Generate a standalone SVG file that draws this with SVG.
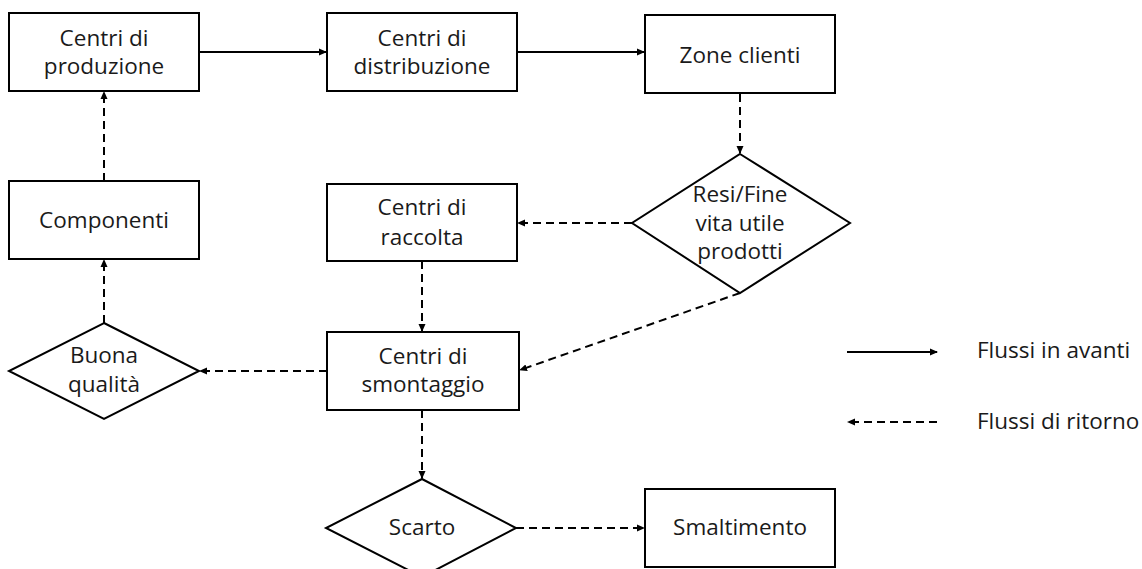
<svg xmlns="http://www.w3.org/2000/svg" width="1142" height="569" viewBox="0 0 1142 569">
<style>
.n{fill:#fff;stroke:#000;stroke-width:2}
.t{font-family:"Open Sans","Liberation Sans",sans-serif;font-size:22.5px;fill:#1a1a1a;text-anchor:middle}
.tl{font-family:"Open Sans","Liberation Sans",sans-serif;font-size:22.5px;fill:#1a1a1a}
.s{fill:none;stroke:#000;stroke-width:2}
.d{fill:none;stroke:#000;stroke-width:2;stroke-dasharray:8 5}
</style>
<defs>
<marker id="a" markerWidth="8" markerHeight="8" refX="7" refY="4" orient="auto" markerUnits="userSpaceOnUse">
<path d="M0,0.5 L8,4 L0,7.5 Z" fill="#000"/>
</marker>
</defs>
<rect width="1142" height="569" fill="#fff"/>
<g id="connectors">
<line class="s" x1="199" y1="52" x2="326" y2="52" marker-end="url(#a)"/>
<line class="s" x1="517" y1="52" x2="644" y2="52" marker-end="url(#a)"/>
<line class="d" x1="740" y1="94" x2="740" y2="153" marker-end="url(#a)"/>
<line class="d" x1="632" y1="223" x2="518" y2="223" marker-end="url(#a)"/>
<line class="d" x1="740" y1="293" x2="520" y2="370" marker-end="url(#a)"/>
<line class="d" x1="422" y1="261" x2="422" y2="331" marker-end="url(#a)"/>
<line class="d" x1="327" y1="371" x2="200" y2="371" marker-end="url(#a)"/>
<line class="d" x1="104" y1="323" x2="104" y2="260" marker-end="url(#a)"/>
<line class="d" x1="104" y1="181" x2="104" y2="92" marker-end="url(#a)"/>
<line class="d" x1="422" y1="410" x2="422" y2="478" marker-end="url(#a)"/>
<line class="d" x1="516" y1="528" x2="644" y2="528" marker-end="url(#a)"/>
</g>
<g id="produzione">
<rect class="n" x="9" y="13" width="190" height="78"/>
<text class="t" x="104" y="45.5">Centri di</text>
<text class="t" x="104" y="74">produzione</text>
</g>
<g id="distribuzione">
<rect class="n" x="327" y="13" width="190" height="78"/>
<text class="t" x="422" y="45.5">Centri di</text>
<text class="t" x="422" y="74">distribuzione</text>
</g>
<g id="clienti">
<rect class="n" x="645" y="15" width="190" height="78"/>
<text class="t" x="740" y="62.5">Zone clienti</text>
</g>
<g id="resi">
<polygon class="n" points="740,154 850,223 740,293 632,223"/>
<text class="t" x="740" y="202">Resi/Fine</text>
<text class="t" x="740" y="230.5">vita utile</text>
<text class="t" x="740" y="259">prodotti</text>
</g>
<g id="raccolta">
<rect class="n" x="327" y="184" width="190" height="77"/>
<text class="t" x="422" y="215">Centri di</text>
<text class="t" x="422" y="244.5">raccolta</text>
</g>
<g id="componenti">
<rect class="n" x="9" y="181" width="190" height="78"/>
<text class="t" x="104" y="228">Componenti</text>
</g>
<g id="smontaggio">
<rect class="n" x="327" y="332" width="192" height="78"/>
<text class="t" x="423" y="364">Centri di</text>
<text class="t" x="423" y="392">smontaggio</text>
</g>
<g id="buona">
<polygon class="n" points="104,323 199,371 104,419 9,371"/>
<text class="t" x="104" y="363">Buona</text>
<text class="t" x="104" y="392">qualità</text>
</g>
<g id="scarto">
<polygon class="n" points="422,479 516,528 422,577 326,528"/>
<text class="t" x="422" y="535">Scarto</text>
</g>
<g id="smaltimento">
<rect class="n" x="645" y="489" width="190" height="78"/>
<text class="t" x="740" y="535">Smaltimento</text>
</g>
<g id="legend">
<line class="s" x1="847" y1="352" x2="937" y2="352" marker-end="url(#a)"/>
<text class="tl" x="977" y="358">Flussi in avanti</text>
<line class="d" x1="937" y1="422" x2="848" y2="422" marker-end="url(#a)"/>
<text class="tl" x="977" y="429">Flussi di ritorno</text>
</g>
</svg>
